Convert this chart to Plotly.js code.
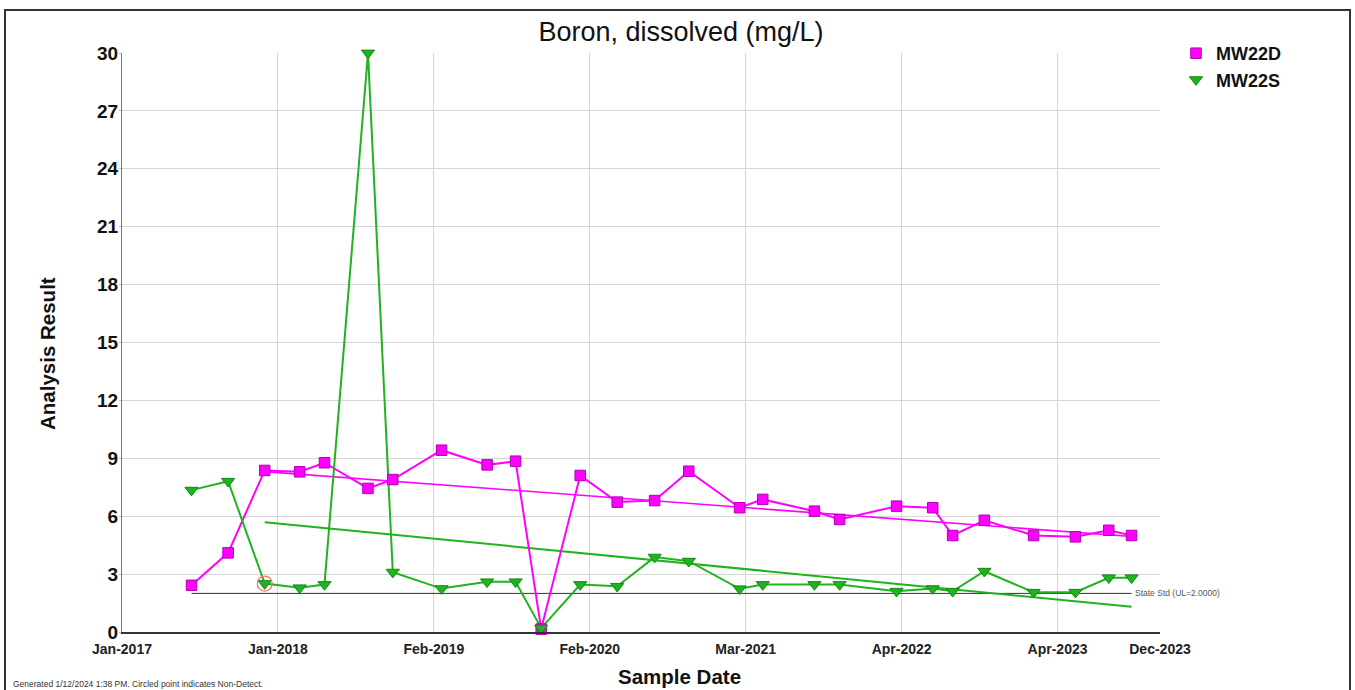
<!DOCTYPE html>
<html>
<head>
<meta charset="utf-8">
<script src="https://cdn.plot.ly/plotly-3.0.1.min.js"></script>
<style>
  html, body { margin: 0; padding: 0; background: #fff; }
  #chart { width: 1355px; height: 690px; }
</style>
</head>
<body>
<div id="chart"></div>
<script>
// Sample dates shared by both wells
const sampleDates = [
  '2017-06-21', '2017-09-19', '2017-12-18', '2018-03-14', '2018-05-14',
  '2018-08-29', '2018-10-29', '2019-02-26', '2019-06-18', '2019-08-27',
  '2019-10-29', '2020-02-02', '2020-05-03', '2020-08-03', '2020-10-26',
  '2021-02-28', '2021-04-26', '2021-08-31', '2021-11-01', '2022-03-21',
  '2022-06-18', '2022-08-06', '2022-10-23', '2023-02-21', '2023-06-04',
  '2023-08-25', '2023-10-20'
];

// Dissolved boron results, mg/L
const mw22d = [
  2.42, 4.10, 8.37, 8.30, 8.77, 7.44, 7.90, 9.42, 8.66, 8.85,
  0.15, 8.11, 6.73, 6.81, 8.33, 6.44, 6.87, 6.26, 5.83, 6.52,
  6.44, 5.00, 5.79, 5.00, 4.93, 5.27, 5.00
];
const mw22s = [
  7.35, 7.81, 2.51, 2.29, 2.46, 30.0, 3.10, 2.25, 2.60, 2.60,
  0.20, 2.46, 2.37, 3.88, 3.67, 2.24, 2.46, 2.46, 2.46, 2.11,
  2.25, 2.11, 3.15, 2.06, 2.06, 2.81, 2.81
];

// Non-detect result (circled)
const nonDetectDates = ['2017-12-18'];
const nonDetectValues = [2.51];

// Trend lines (start / end)
const trendDates = ['2017-12-18', '2023-10-20'];
const trendMW22D = [8.31, 4.95];
const trendMW22S = [5.69, 1.31];

// State standard (upper limit)
const stateStd = 2.0;
const stateStdLabel = 'State Std (UL=2.0000)';

// Date axis ticks
const xRange = ['2017-01-01', '2023-12-29'];
const tickDates = ['2017-01-01', '2018-01-19 12:00', '2019-02-07', '2020-02-25 12:00',
                   '2021-03-15', '2022-04-02 12:00', '2023-04-21', '2023-12-29'];
const tickLabels = ['Jan-2017', 'Jan-2018', 'Feb-2019', 'Feb-2020',
                    'Mar-2021', 'Apr-2022', 'Apr-2023', 'Dec-2023'];

const FONT = 'Liberation Sans, Arial, Helvetica, sans-serif';
const MAGENTA = '#ff00ff';
const GREEN = '#1fb41f';

// Plot-area geometry in pixels, used to place paper-referenced items
const W = 1355, H = 690;
const M = { l: 122, r: 195, t: 53, b: 58 };
const PW = W - M.l - M.r, PH = H - M.t - M.b;
const px = x => (x - M.l) / PW;
const py = y => (H - M.b - y) / PH;

const traces = [
  // state standard line
  {
    x: [sampleDates[0], sampleDates[sampleDates.length - 1]],
    y: [stateStd, stateStd],
    mode: 'lines', line: { color: '#333', width: 1 },
    showlegend: false, hoverinfo: 'skip'
  },
  // trend lines
  {
    x: trendDates, y: trendMW22D, mode: 'lines',
    line: { color: MAGENTA, width: 1.6 }, showlegend: false, hoverinfo: 'skip'
  },
  {
    x: trendDates, y: trendMW22S, mode: 'lines',
    line: { color: GREEN, width: 2 }, showlegend: false, hoverinfo: 'skip'
  },
  // series connecting lines
  {
    x: sampleDates, y: mw22d, mode: 'lines',
    line: { color: MAGENTA, width: 2 }, showlegend: false, hoverinfo: 'skip',
    cliponaxis: false
  },
  {
    x: sampleDates, y: mw22s, mode: 'lines',
    line: { color: GREEN, width: 2 }, showlegend: false, hoverinfo: 'skip',
    cliponaxis: false
  },
  // series markers
  {
    name: 'MW22D', x: sampleDates, y: mw22d, mode: 'markers',
    marker: { symbol: 'square', size: 10.5, color: MAGENTA, line: { color: '#b000b0', width: 1 } },
    cliponaxis: false
  },
  {
    name: 'MW22S', x: sampleDates, y: mw22s, mode: 'markers',
    marker: { symbol: 'triangle-down', size: 11.5, color: GREEN, line: { color: '#128a12', width: 1 } },
    cliponaxis: false
  },
  // non-detect marker
  {
    x: nonDetectDates, y: nonDetectValues, mode: 'markers',
    marker: { symbol: 'circle-open', size: 15, color: '#ee7a5e', line: { width: 1.2 } },
    showlegend: false, hoverinfo: 'skip', cliponaxis: false
  }
];

const layout = {
  width: W, height: H,
  margin: M,
  paper_bgcolor: '#fff', plot_bgcolor: '#fff',
  font: { family: FONT, color: '#111' },
  title: {
    text: 'Boron, dissolved (mg/L)',
    xref: 'container', x: 681 / W, xanchor: 'center',
    yref: 'container', y: 1 - 32 / H, yanchor: 'middle',
    font: { family: FONT, size: 27, color: '#111' }
  },
  xaxis: {
    type: 'date', range: xRange,
    tickmode: 'array', tickvals: tickDates, ticktext: tickLabels,
    showgrid: true, gridcolor: '#d6d6d6', gridwidth: 1,
    showline: true, linecolor: '#333', linewidth: 2,
    ticks: '', zeroline: false, ticklabelstandoff: 3,
    tickfont: { family: FONT, size: 14, weight: 700, color: '#222' },
    fixedrange: true
  },
  yaxis: {
    range: [0, 30], tick0: 0, dtick: 3,
    showgrid: true, gridcolor: '#d6d6d6', gridwidth: 1,
    showline: true, linecolor: '#777', linewidth: 1,
    ticks: 'outside', ticklen: 2, tickcolor: '#bbb',
    zeroline: false, ticklabelstandoff: -3,
    tickfont: { family: FONT, size: 19, weight: 700, color: '#111' },
    fixedrange: true
  },
  legend: {
    x: px(1176), xanchor: 'left', y: py(35), yanchor: 'top',
    bgcolor: 'rgba(0,0,0,0)', borderwidth: 0,
    font: { family: FONT, size: 18, weight: 700, color: '#111' },
    tracegroupgap: 0, itemwidth: 30
  },
  annotations: [
    {
      text: 'Sample Date', xref: 'paper', yref: 'paper',
      x: px(679), y: py(676), xanchor: 'center', yanchor: 'middle',
      showarrow: false, font: { family: FONT, size: 20.5, weight: 700, color: '#111' }
    },
    {
      text: 'Analysis Result', xref: 'paper', yref: 'paper',
      x: px(48), y: py(354), xanchor: 'center', yanchor: 'middle', textangle: -90,
      showarrow: false, font: { family: FONT, size: 20.5, weight: 700, color: '#111' }
    },
    {
      text: stateStdLabel, xref: 'x', yref: 'y',
      x: sampleDates[sampleDates.length - 1], y: stateStd,
      xanchor: 'left', yanchor: 'middle', xshift: 1,
      showarrow: false, font: { family: FONT, size: 8.5, color: '#555' }
    },
    {
      text: 'Generated 1/12/2024 1:38 PM. Circled point indicates Non-Detect.',
      xref: 'paper', yref: 'paper', x: px(11), y: py(684),
      xanchor: 'left', yanchor: 'middle',
      showarrow: false, font: { family: FONT, size: 8.5, color: '#333' }
    }
  ],
  shapes: [
    {
      type: 'rect', xref: 'paper', yref: 'paper',
      x0: px(5), x1: px(1350), y0: py(702), y1: py(10),
      line: { color: '#333', width: 2 }, fillcolor: 'rgba(0,0,0,0)', layer: 'below'
    }
  ],
  showlegend: true
};

Plotly.newPlot('chart', traces, layout, { displayModeBar: false, staticPlot: true });
</script>
</body>
</html>
